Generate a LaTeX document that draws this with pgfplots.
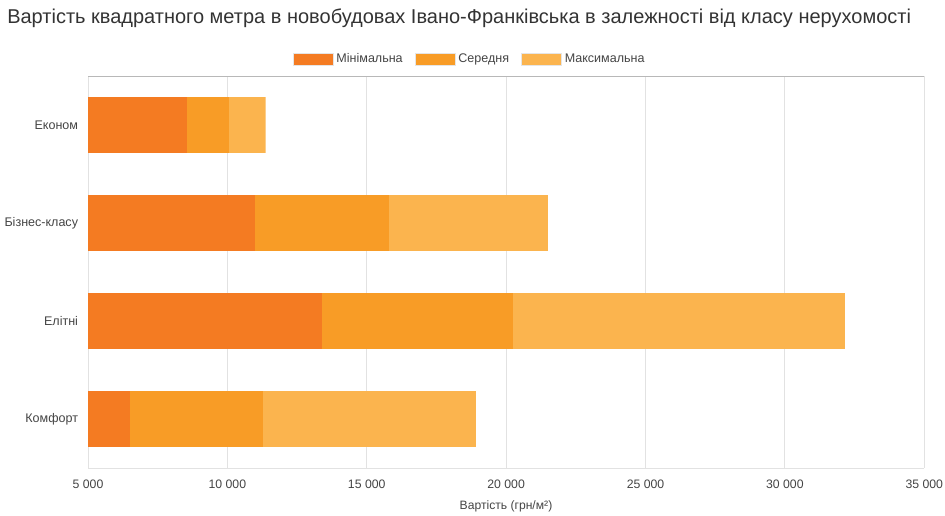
\documentclass[border=0pt]{standalone}
\usepackage{fontspec}
\setmainfont{Liberation Sans}
\usepackage{pgfplots}
\pgfplotsset{compat=1.18}
\definecolor{cmin}{HTML}{F47B22}
\definecolor{cmid}{HTML}{F89C26}
\definecolor{cmax}{HTML}{FBB44E}
\definecolor{txt}{HTML}{444444}
\definecolor{gridc}{HTML}{E2E2E2}
\begin{document}
\begin{tikzpicture}
\useasboundingbox (0,0) rectangle (708.75pt,387pt);
\node[anchor=base west, font=\fontsize{15}{17}\selectfont, text=black!80, inner sep=0] at (5.25pt, 369pt) {Вартість квадратного метра в новобудовах Івано-Франківська в залежності від класу нерухомості};
\begin{axis}[
  at={(66pt,36pt)}, anchor=south west,
  scale only axis, width=627.2pt, height=294pt,
  xmin=5000, xmax=35000, ymin=-0.5, ymax=3.5, y dir=reverse,
  xbar, bar width=0.571, bar shift=0pt,
  scaled x ticks=false,
  xtick={5000,10000,15000,20000,25000,30000,35000},
  xticklabels={5 000,10 000,15 000,20 000,25 000,30 000,35 000},
  ytick={0,1,2,3},
  yticklabels={Економ,Бізнес-класу,Елітні,Комфорт},
  xmajorgrids, major grid style={draw=gridc, line width=0.75pt},
  axis line style={draw=none}, tick style={draw=none},
  xticklabel style={font=\fontsize{9.2}{10}\selectfont, text=txt, inner sep=0pt, anchor=north, yshift=-8.5pt},
  yticklabel style={font=\fontsize{9.4}{10}\selectfont, text=txt, inner sep=0pt, anchor=east, xshift=-3pt},
  legend columns=3, reverse legend,
  legend style={at={(0.4568,1.043)}, anchor=center, draw=none, fill=none,
    font=\fontsize{9.4}{10}\selectfont, text=txt,
    /tikz/every even column/.append style={column sep=7pt}},
  clip=true,
]
\addplot[fill=cmax, draw=none, legend image code/.code={\draw[fill=cmax, draw=black!10, line width=0.75pt] (0pt,-4.5pt) rectangle (30pt,4.5pt);}]
  coordinates {(11373,0) (21500,1) (32150,2) (18917,3)};
\addlegendentry{Максимальна}
\addplot[fill=cmid, draw=none, legend image code/.code={\draw[fill=cmid, draw=black!10, line width=0.75pt] (0pt,-4.5pt) rectangle (30pt,4.5pt);}]
  coordinates {(10057,0) (15796,1) (20244,2) (11277,3)};
\addlegendentry{Середня}
\addplot[fill=cmin, draw=none, legend image code/.code={\draw[fill=cmin, draw=black!10, line width=0.75pt] (0pt,-4.5pt) rectangle (30pt,4.5pt);}]
  coordinates {(8551,0) (10990,1) (13393,2) (6506,3)};
\addlegendentry{Мінімальна}
\draw[draw=black!28, line width=0.75pt] ([xshift=-7.5pt]rel axis cs:0,1) -- (rel axis cs:1,1);
\draw[draw=gridc, line width=0.75pt] (rel axis cs:0,0) -- (rel axis cs:1,0);
\end{axis}
\node[anchor=base, font=\fontsize{9.1}{10}\selectfont, text=txt, inner sep=0] at (379.5pt, 5pt) {Вартість (грн/м²)};
\end{tikzpicture}
\end{document}
